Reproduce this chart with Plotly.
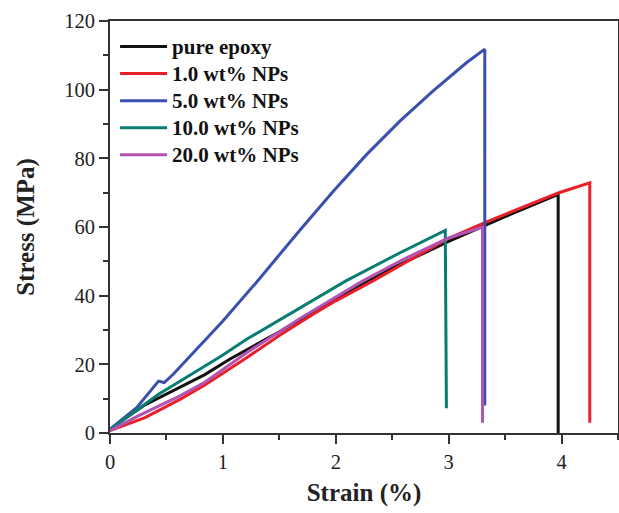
import plotly.graph_objects as go

names = ["pure epoxy", "1.0 wt% NPs", "5.0 wt% NPs", "10.0 wt% NPs", "20.0 wt% NPs"]
colors = ["#111111", "#e8202a", "#3a4fae", "#0a7d72", "#b352b3"]

epoxy_x = [0, 0.1, 0.3, 0.62, 0.84, 1.06, 1.5, 2.0, 2.5, 3.0, 3.5, 3.97, 3.97]
epoxy_y = [1, 3.5, 8, 13.2, 17.0, 21.5, 29.5, 39, 48, 55.8, 63, 69.5, 0]

np1_x = [0, 0.15, 0.31, 0.62, 0.84, 1.21, 1.5, 1.80, 2.0, 2.33, 2.98, 3.32, 3.97, 4.25, 4.25]
np1_y = [0.7, 2.5, 4.5, 9.8, 14.0, 21.9, 28.4, 34.6, 38.5, 44.3, 56.4, 61.3, 69.9, 72.9, 3]

np5_x = [0, 0.236, 0.43, 0.48, 0.56, 0.84, 1.0, 1.3, 1.68, 1.98, 2.27, 2.57, 2.86, 3.16, 3.32, 3.32]
np5_y = [1.1, 7.4, 15.1, 14.7, 17.1, 26.8, 32.6, 44, 59, 70.5, 81, 90.9, 99.6, 107.9, 111.8, 8]

np10_x = [0, 0.25, 0.43, 0.62, 0.99, 1.21, 1.68, 2.09, 2.57, 2.97, 2.98]
np10_y = [1, 6.9, 11.3, 15.1, 22.5, 27.3, 36.3, 44.3, 52.5, 59, 7.2]

np20_x = [0, 0.25, 0.62, 0.84, 1.21, 1.68, 2.24, 2.6, 3.0, 3.30, 3.30]
np20_y = [0.7, 5, 10.8, 14.8, 23.4, 33.3, 44.3, 50.6, 56.8, 60, 3]

series = [(epoxy_x, epoxy_y), (np1_x, np1_y), (np5_x, np5_y), (np10_x, np10_y), (np20_x, np20_y)]

font_family = "Liberation Serif"
fig = go.Figure()
for (xs, ys), name, col in zip(series, names, colors):
    fig.add_trace(go.Scatter(
        x=xs, y=ys, mode="lines",
        name="<span style='font-size:21px'><b>" + name + "</b></span>",
        line=dict(color=col, width=3)))

axis_common = dict(
    showline=True, linecolor="#333333", linewidth=2, mirror=True,
    ticks="outside", ticklen=9, tickwidth=1.5, tickcolor="#333333",
    showgrid=False, zeroline=False, automargin=False,
    tickfont=dict(family=font_family, size=20.5, color="#222222"),
)
fig.update_layout(
    width=619, height=513,
    margin=dict(l=110, r=1, t=21, b=80),
    paper_bgcolor="white", plot_bgcolor="white",
    showlegend=True,
    legend=dict(x=0.01, y=0.983, xanchor="left", yanchor="top",
                bgcolor="rgba(0,0,0,0)", font=dict(family=font_family, size=18.5, color="#111111"),
                itemwidth=47, tracegroupgap=0),
    xaxis=dict(range=[0, 4.5], tickvals=[0, 1, 2, 3, 4],
               minor=dict(ticks="outside", ticklen=5, tickwidth=1.5, tickcolor="#333333", dtick=0.5),
               title=dict(text="<b>Strain (%)</b>", font=dict(family=font_family, size=25, color="#222222"), standoff=12),
               **axis_common),
    yaxis=dict(range=[0, 120], tickvals=[0, 20, 40, 60, 80, 100, 120],
               minor=dict(ticks="outside", ticklen=5, tickwidth=1.5, tickcolor="#333333", dtick=10),
               title=dict(text="<b>Stress (MPa)</b>", font=dict(family=font_family, size=25, color="#222222"), standoff=22),
               **axis_common),
)

fig.write_html("out.html", config={"displayModeBar": False},
               post_script="document.body.style.margin='0';document.body.style.padding='0';")
